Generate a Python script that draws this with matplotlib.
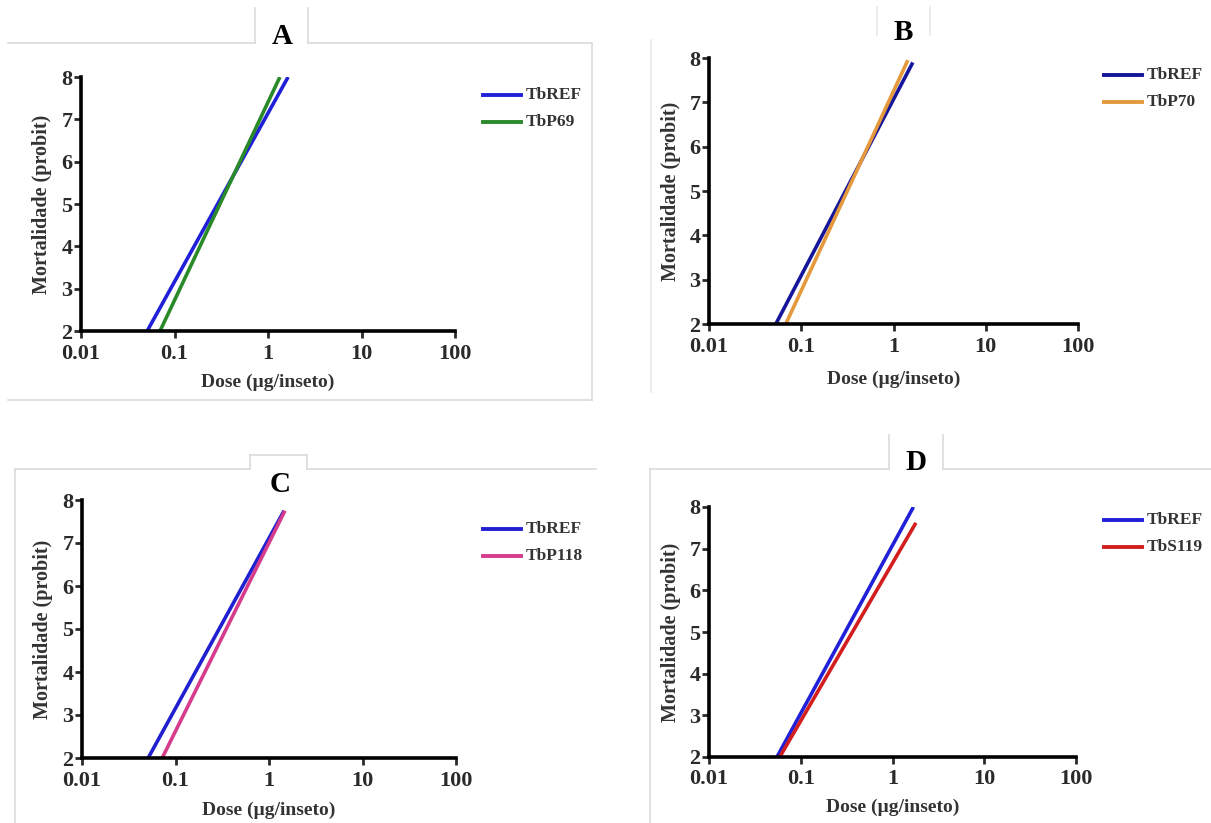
import numpy as np
import matplotlib
matplotlib.use('Agg')
import matplotlib.pyplot as plt
from matplotlib.lines import Line2D

plt.rcParams['font.family'] = ['Liberation Serif', 'DejaVu Serif']
plt.rcParams['font.weight'] = 'bold'

# Data: probit regression lines (dose in ug/insect, mortality in probit)
panel_letters = ['A', 'B', 'C', 'D']
series_names = [['TbREF', 'TbP69'], ['TbREF', 'TbP70'],
                ['TbREF', 'TbP118'], ['TbREF', 'TbS119']]
dose_A = [[0.051, 1.64], [0.070, 1.34]]
probit_A = [[2, 8], [2, 8]]
dose_B = [[0.053, 1.62], [0.068, 1.43]]
probit_B = [[2, 7.9], [2, 7.95]]
dose_C = [[0.051, 1.45], [0.072, 1.48]]
probit_C = [[2, 7.75], [2, 7.75]]
dose_D = [[0.055, 1.69], [0.059, 1.80]]
probit_D = [[2, 8], [2, 7.62]]
x_ticks = [0.01, 0.1, 1, 10, 100]
x_ticklabels = ['0.01', '0.1', '1', '10', '100']
y_ticks = [2, 3, 4, 5, 6, 7, 8]

colors = [['#2020d8', '#2a8a2a'], ['#16169a', '#e49a3c'],
          ['#2020d0', '#d63c8c'], ['#2020d8', '#d21e1e']]

W, H = 1211, 823
fig = plt.figure(figsize=(W / 100, H / 100), dpi=100)


def px(x0, y0, x1, y1):
    # pixel box (top-left origin) -> figure fraction rect
    return [x0 / W, 1 - y1 / H, (x1 - x0) / W, (y1 - y0) / H]


def fline(xs, ys, color='#dcdcdc', lw=1.2):
    fig.add_artist(Line2D([x / W for x in xs], [1 - y / H for y in ys],
                          color=color, lw=lw, transform=fig.transFigure))


# panel frames / tabs
fline([8, 255], [43, 43]); fline([308, 592], [43, 43])
fline([255, 255], [8, 43]); fline([308, 308], [8, 43])
fline([592, 592], [43, 400]); fline([8, 592], [400, 400])
fline([651, 651], [40, 392], color='#e8e8e8')
fline([877, 877], [7, 35], color='#e8e8e8'); fline([930, 930], [7, 35], color='#e8e8e8')
fline([15, 250], [469, 469]); fline([307, 596], [469, 469])
fline([250, 250], [455, 469]); fline([307, 307], [455, 469]); fline([250, 307], [455, 455])
fline([15, 15], [469, 823])
fline([650, 889], [469, 469]); fline([943, 1211], [469, 469])
fline([889, 889], [435, 469]); fline([943, 943], [435, 469])
fline([650, 650], [469, 823])

axes_px = [(81, 77, 455, 331), (709, 58, 1078, 324),
           (82, 500, 456, 758), (709, 507, 1076, 757)]
letter_px = [(282, 36), (903, 33), (280, 485), (916, 463)]
ylab_px = [42, 671, 43, 671]
xlab_px = [382, 379, 810, 807]
legend_px = [(483, 95), (1104, 75), (483, 529), (1104, 520)]

all_dose = [dose_A, dose_B, dose_C, dose_D]
all_probit = [probit_A, probit_B, probit_C, probit_D]

for i in range(4):
    ax = fig.add_axes(px(*axes_px[i]))
    for j in range(2):
        ax.plot(all_dose[i][j], all_probit[i][j], color=colors[i][j],
                lw=2.6, solid_capstyle='butt', label=series_names[i][j])
    ax.set_xscale('log')
    ax.set_xlim(0.01, 100)
    ax.set_ylim(2, 8)
    ax.set_xticks(x_ticks)
    ax.set_xticklabels(x_ticklabels)
    ax.set_yticks(y_ticks)
    ax.minorticks_off()
    ax.spines['top'].set_visible(False)
    ax.spines['right'].set_visible(False)
    ax.spines['left'].set_linewidth(2.6)
    ax.spines['bottom'].set_linewidth(2.6)
    ax.tick_params(direction='out', length=5, width=2, labelsize=16,
                   colors='#2a2a2a')
    ax.tick_params(axis='x', pad=4)
    ax.tick_params(axis='y', pad=1)
    for lab in ax.get_xticklabels() + ax.get_yticklabels():
        lab.set_fontweight('bold')
    ax.patch.set_alpha(0)

    x0, y0, x1, y1 = axes_px[i]
    fig.text(((x0 + x1) / 2) / W, 1 - xlab_px[i] / H, 'Dose (µg/inseto)',
             ha='center', va='center', fontsize=14, fontweight='bold',
             color='#333333')
    fig.text(ylab_px[i] / W, 1 - ((y0 + y1) / 2) / H, 'Mortalidade (probit)',
             ha='center', va='center', rotation=90, fontsize=14.5,
             fontweight='bold', color='#333333')
    fig.text(letter_px[i][0] / W, 1 - letter_px[i][1] / H, panel_letters[i],
             ha='center', va='center', fontsize=21, fontweight='bold')

    lx, ly = legend_px[i]
    for j in range(2):
        yy = ly + j * 27
        fline([lx, lx + 38], [yy, yy], color=colors[i][j], lw=2.8)
        fig.text((lx + 43) / W, 1 - yy / H, series_names[i][j], ha='left',
                 va='center', fontsize=12.5, fontweight='bold', color='#333333')

fig.savefig('out.png', dpi=100)
